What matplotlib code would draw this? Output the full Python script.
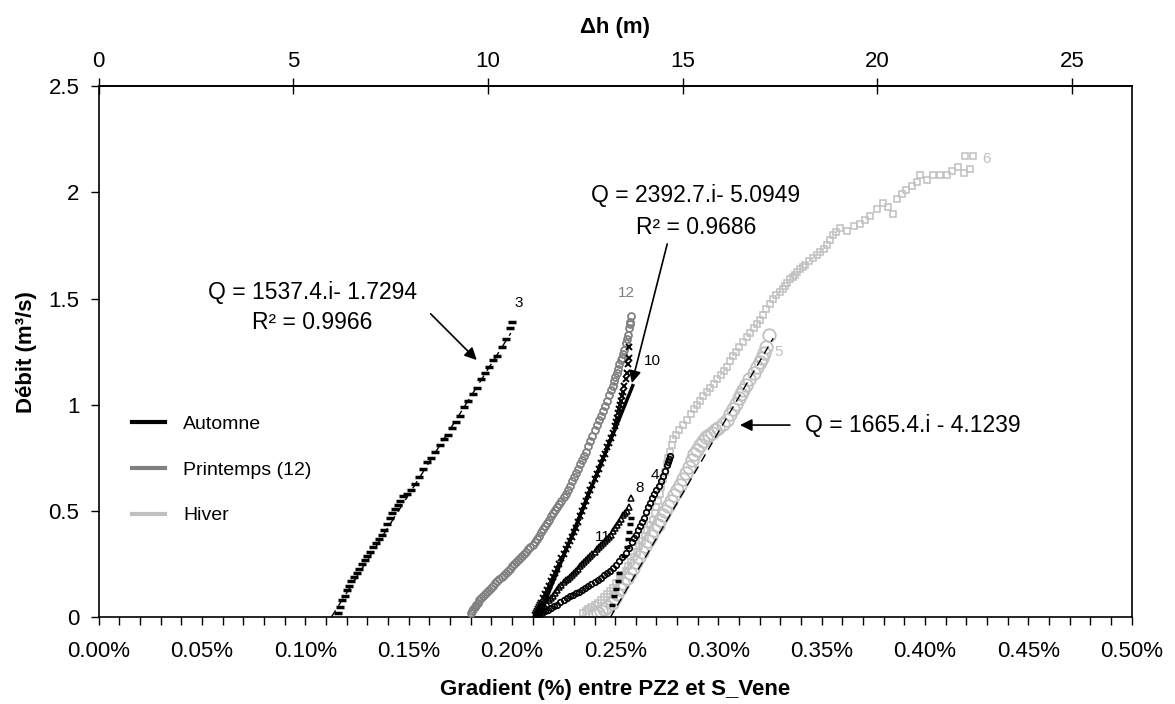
import matplotlib
matplotlib.use('Agg')
import matplotlib.pyplot as plt
from matplotlib.lines import Line2D
from matplotlib.ticker import MultipleLocator, FuncFormatter, FixedLocator
import numpy as np

plt.rcParams['font.family'] = ['Liberation Sans', 'DejaVu Sans']

# ---------------- data : gradient (%) vs discharge (m3/s) ----------------
# event 3 (Automne)
x3 = [0.116, 0.117, 0.118, 0.119, 0.120, 0.121, 0.122, 0.1235, 0.125, 0.126, 0.1275, 0.129,
      0.130, 0.1315, 0.133, 0.134, 0.1355, 0.137, 0.138, 0.1395, 0.141, 0.142, 0.1435, 0.145,
      0.146, 0.1475, 0.149, 0.151, 0.153, 0.155, 0.157, 0.159, 0.161, 0.163, 0.165, 0.167,
      0.169, 0.171, 0.173, 0.175, 0.177, 0.179, 0.181, 0.183, 0.185, 0.187, 0.189, 0.191,
      0.193, 0.195, 0.197, 0.199, 0.200]
y3 = [0.02, 0.05, 0.08, 0.10, 0.13, 0.15, 0.17, 0.19, 0.21, 0.23, 0.25, 0.27,
      0.29, 0.31, 0.33, 0.35, 0.37, 0.39, 0.41, 0.44, 0.47, 0.49, 0.51, 0.53,
      0.55, 0.57, 0.58, 0.60, 0.63, 0.66, 0.70, 0.73, 0.75, 0.78, 0.81, 0.84,
      0.86, 0.89, 0.92, 0.95, 0.99, 1.02, 1.05, 1.08, 1.12, 1.15, 1.18, 1.21,
      1.23, 1.27, 1.31, 1.36, 1.39]
# event 12 (Printemps)
x12 = [0.180, 0.1805, 0.181, 0.182, 0.1825, 0.1835, 0.184, 0.185, 0.186, 0.187, 0.188, 0.189,
       0.190, 0.191, 0.192, 0.193, 0.194, 0.195, 0.196, 0.197, 0.198, 0.199, 0.200, 0.201,
       0.202, 0.203, 0.204, 0.205, 0.206, 0.207, 0.208, 0.209, 0.210, 0.211, 0.212, 0.213,
       0.214, 0.215, 0.216, 0.217, 0.218, 0.219, 0.220, 0.221, 0.222, 0.223, 0.224, 0.225,
       0.226, 0.227, 0.228, 0.229, 0.230, 0.231, 0.232, 0.233, 0.234, 0.235, 0.236, 0.237,
       0.238, 0.239, 0.240, 0.241, 0.242, 0.243, 0.244, 0.245, 0.246, 0.247, 0.248, 0.249,
       0.2495, 0.250, 0.251, 0.2515, 0.252, 0.253, 0.2535, 0.254, 0.2545, 0.255, 0.2555, 0.256,
       0.2565, 0.257, 0.2573, 0.2578]
y12 = [0.02, 0.03, 0.04, 0.05, 0.06, 0.07, 0.08, 0.09, 0.10, 0.11, 0.12, 0.13,
       0.14, 0.15, 0.16, 0.17, 0.18, 0.19, 0.20, 0.21, 0.22, 0.23, 0.24, 0.25,
       0.26, 0.27, 0.28, 0.29, 0.30, 0.31, 0.32, 0.33, 0.34, 0.355, 0.37, 0.385,
       0.40, 0.415, 0.43, 0.445, 0.46, 0.475, 0.49, 0.505, 0.52, 0.535, 0.55, 0.565,
       0.58, 0.60, 0.62, 0.64, 0.66, 0.68, 0.70, 0.72, 0.74, 0.76, 0.78, 0.805,
       0.83, 0.855, 0.88, 0.905, 0.93, 0.95, 0.97, 0.995, 1.02, 1.045, 1.07, 1.09,
       1.11, 1.13, 1.15, 1.17, 1.19, 1.21, 1.22, 1.24, 1.26, 1.29, 1.31, 1.33,
       1.36, 1.38, 1.39, 1.42]
# event 10 (Automne)
x10 = [0.2112, 0.2115, 0.212, 0.2125, 0.213, 0.2135, 0.214, 0.215, 0.216, 0.217, 0.218, 0.219,
       0.220, 0.221, 0.222, 0.223, 0.224, 0.225, 0.226, 0.227, 0.228, 0.229, 0.230, 0.231,
       0.232, 0.233, 0.234, 0.235, 0.236, 0.237, 0.238, 0.239, 0.240, 0.241, 0.242, 0.243,
       0.244, 0.245, 0.246, 0.247, 0.248, 0.249, 0.250, 0.2505, 0.251, 0.2515, 0.252, 0.2525,
       0.253, 0.2535, 0.254, 0.2545, 0.255, 0.2555, 0.256, 0.2565, 0.2565]
y10 = [0.01, 0.02, 0.03, 0.04, 0.05, 0.06, 0.07, 0.09, 0.11, 0.13, 0.15, 0.17,
       0.19, 0.21, 0.23, 0.25, 0.28, 0.30, 0.32, 0.34, 0.36, 0.38, 0.40, 0.42,
       0.45, 0.475, 0.50, 0.525, 0.55, 0.575, 0.60, 0.625, 0.65, 0.675, 0.70, 0.725,
       0.75, 0.77, 0.80, 0.82, 0.845, 0.87, 0.90, 0.92, 0.94, 0.96, 0.98, 1.00,
       1.02, 1.04, 1.06, 1.09, 1.12, 1.15, 1.19, 1.22, 1.27]
# event 4 (Automne)
x4 = [0.212, 0.213, 0.2145, 0.216, 0.2175, 0.219, 0.2205, 0.222, 0.2235, 0.225, 0.2265, 0.228,
      0.2295, 0.231, 0.2325, 0.234, 0.2355, 0.237, 0.2385, 0.240, 0.2415, 0.243, 0.2445, 0.246,
      0.2475, 0.249, 0.2505, 0.252, 0.2535, 0.255, 0.2565, 0.258, 0.259, 0.260, 0.261, 0.262,
      0.263, 0.264, 0.265, 0.266, 0.267, 0.268, 0.269, 0.270, 0.271, 0.272, 0.273, 0.274,
      0.275, 0.2755, 0.276, 0.2765]
y4 = [0.01, 0.015, 0.022, 0.03, 0.037, 0.045, 0.052, 0.06, 0.072, 0.082, 0.092, 0.10,
      0.108, 0.115, 0.122, 0.13, 0.137, 0.148, 0.157, 0.165, 0.175, 0.188, 0.198, 0.21,
      0.22, 0.235, 0.248, 0.265, 0.283, 0.305, 0.328, 0.355, 0.372, 0.39, 0.41, 0.43,
      0.45, 0.47, 0.495, 0.52, 0.54, 0.56, 0.58, 0.60, 0.62, 0.64, 0.665, 0.69,
      0.715, 0.73, 0.745, 0.76]
# event 8 (Automne)
x8 = [0.212, 0.213, 0.214, 0.215, 0.216, 0.217, 0.218, 0.219, 0.220, 0.221, 0.222, 0.223,
      0.224, 0.225, 0.226, 0.227, 0.228, 0.229, 0.230, 0.231, 0.232, 0.233, 0.234, 0.235,
      0.236, 0.237, 0.238, 0.239, 0.240, 0.241, 0.242, 0.243, 0.244, 0.245, 0.246, 0.247,
      0.248, 0.249, 0.250, 0.251, 0.252, 0.253, 0.254, 0.2548, 0.2555, 0.2565, 0.2578]
y8 = [0.01, 0.02, 0.03, 0.04, 0.05, 0.065, 0.08, 0.09, 0.10, 0.115, 0.13, 0.143,
      0.155, 0.165, 0.175, 0.183, 0.19, 0.20, 0.21, 0.22, 0.23, 0.24, 0.25, 0.26,
      0.27, 0.28, 0.29, 0.30, 0.31, 0.32, 0.33, 0.34, 0.35, 0.36, 0.37, 0.38,
      0.39, 0.405, 0.42, 0.435, 0.45, 0.465, 0.48, 0.49, 0.50, 0.52, 0.56]
# event 11 (Automne)
x11 = [0.2485, 0.2495, 0.2505, 0.2515, 0.252, 0.2545, 0.2555, 0.256, 0.2565, 0.257, 0.2575]
y11 = [0.06, 0.10, 0.135, 0.17, 0.21, 0.29, 0.33, 0.37, 0.40, 0.44, 0.47]
# event 5 (Hiver)
x5 = [0.240, 0.2415, 0.243, 0.2445, 0.246, 0.2483, 0.250, 0.251, 0.2525, 0.254, 0.2555, 0.257,
      0.2585, 0.260, 0.2615, 0.263, 0.2645, 0.266, 0.2675, 0.269, 0.2705, 0.2717, 0.273, 0.274,
      0.2755, 0.277, 0.2785, 0.280, 0.2815, 0.283, 0.2845, 0.2855, 0.287, 0.288, 0.2895, 0.291,
      0.2925, 0.294, 0.2955, 0.297, 0.2985, 0.300, 0.302, 0.304, 0.3055, 0.307, 0.3085, 0.310,
      0.311, 0.312, 0.3135, 0.315, 0.317, 0.3185, 0.320, 0.321, 0.322, 0.323, 0.3247]
y5 = [0.01, 0.02, 0.03, 0.04, 0.05, 0.07, 0.09, 0.11, 0.135, 0.16, 0.185, 0.21,
      0.235, 0.26, 0.285, 0.31, 0.335, 0.36, 0.385, 0.41, 0.435, 0.46, 0.48, 0.50,
      0.525, 0.55, 0.575, 0.60, 0.625, 0.65, 0.68, 0.71, 0.74, 0.77, 0.79, 0.81,
      0.83, 0.85, 0.86, 0.87, 0.88, 0.89, 0.91, 0.93, 0.955, 0.98, 1.005, 1.03,
      1.05, 1.07, 1.095, 1.12, 1.15, 1.18, 1.20, 1.22, 1.245, 1.27, 1.33]
# event 6 (Hiver)
x6 = [0.2346, 0.236, 0.237, 0.2385, 0.240, 0.2415, 0.243, 0.2445, 0.246, 0.2475, 0.249, 0.2505,
      0.2523, 0.2535, 0.255, 0.2562, 0.2575, 0.259, 0.2604, 0.2617, 0.263, 0.2643, 0.2655, 0.267,
      0.2685, 0.2692, 0.270, 0.2708, 0.2715, 0.2724, 0.2733, 0.2742, 0.275, 0.2758, 0.2765, 0.2774,
      0.2782, 0.2795, 0.281, 0.283, 0.2847, 0.2865, 0.288, 0.2895, 0.291, 0.2925, 0.2943, 0.296,
      0.298, 0.2995, 0.301, 0.3025, 0.304, 0.3055, 0.307, 0.3085, 0.310, 0.312, 0.3137, 0.3155,
      0.317, 0.3185, 0.3201, 0.3215, 0.323, 0.325, 0.3265, 0.328, 0.3298, 0.331, 0.332, 0.3333,
      0.3346, 0.336, 0.337, 0.338, 0.3395, 0.341, 0.342, 0.344, 0.3459, 0.3475, 0.349, 0.351,
      0.3524, 0.354, 0.3556, 0.357, 0.3588, 0.362, 0.3655, 0.3685, 0.371, 0.3733, 0.3766, 0.3798,
      0.382, 0.3846, 0.3862, 0.389, 0.391, 0.3935, 0.3959, 0.3975, 0.401, 0.404, 0.407, 0.4104,
      0.413, 0.416, 0.419, 0.4217, 0.4193, 0.4233]
y6 = [0.02, 0.03, 0.04, 0.05, 0.06, 0.07, 0.08, 0.095, 0.11, 0.125, 0.14, 0.16,
      0.18, 0.20, 0.22, 0.24, 0.26, 0.285, 0.31, 0.335, 0.36, 0.385, 0.41, 0.435,
      0.46, 0.49, 0.52, 0.55, 0.58, 0.615, 0.65, 0.685, 0.72, 0.75, 0.78, 0.81,
      0.84, 0.86, 0.88, 0.905, 0.93, 0.955, 0.98, 1.00, 1.02, 1.04, 1.06, 1.08,
      1.10, 1.12, 1.14, 1.16, 1.18, 1.205, 1.23, 1.25, 1.27, 1.295, 1.32, 1.34,
      1.36, 1.38, 1.40, 1.425, 1.45, 1.475, 1.50, 1.515, 1.53, 1.545, 1.56, 1.575,
      1.59, 1.60, 1.61, 1.625, 1.64, 1.65, 1.66, 1.675, 1.69, 1.705, 1.72, 1.735,
      1.75, 1.775, 1.80, 1.815, 1.83, 1.82, 1.84, 1.85, 1.87, 1.89, 1.92, 1.95,
      1.93, 1.90, 1.97, 1.99, 2.01, 2.03, 2.05, 2.08, 2.06, 2.08, 2.08, 2.08,
      2.10, 2.12, 2.09, 2.11, 2.17, 2.17]

# linear fits  Q = a * i + b   (i = gradient as a fraction)
fit3 = (1537.4, -1.7294)
fit10 = (2392.7, -5.0949)
fit5 = (1665.4, -4.1239)
fit3_range = (0.1125, 0.1995)
fit10_range = (0.2125, 0.2585)
fit5_range = (0.2476, 0.3265)

L_m = 5306.0  # distance PZ2 - S_Vene (m): dh = i * L

BLACK = '#000000'
GRAY = '#808080'
LIGHT = '#c0c0c0'

# ---------------- figure ----------------
fig = plt.figure(figsize=(11.75, 7.04), dpi=100)
ax = fig.add_axes([0.0840, 0.1229, 0.8791, 0.7550])
ax.set_xlim(0, 0.5)
ax.set_ylim(0, 2.5)

# Hiver
ax.plot(x6, y6, ls='none', marker='s', ms=5, mfc='none', mec=LIGHT, mew=1.1, zorder=2)
ax.plot(x5, y5, ls='none', marker='o', ms=9, mfc='none', mec=LIGHT, mew=1.3, zorder=2)
# Printemps
ax.plot(x12, y12, ls='none', marker='o', ms=5, mfc='none', mec=GRAY, mew=1.3, zorder=3)
# Automne
ax.plot(x3, y3, ls='none', marker='_', ms=6, mec=BLACK, mew=2.5, zorder=4)
ax.plot(x10, y10, ls='none', marker='x', ms=5, mec=BLACK, mew=1.4, zorder=4)
ax.plot(x4, y4, ls='none', marker='o', ms=4, mfc='none', mec=BLACK, mew=1.2, zorder=4)
ax.plot(x8, y8, ls='none', marker='^', ms=4.5, mfc='none', mec=BLACK, mew=1.1, zorder=4)
ax.plot(x11, y11, ls='none', marker='_', ms=5, mec=BLACK, mew=2.5, zorder=4)


def fit_line(fit, rng):
    xs = np.array(rng)
    return xs, fit[0] * xs / 100.0 + fit[1]


fx, fy = fit_line(fit3, fit3_range)
ax.plot(fx, fy, color=BLACK, lw=1.0, dashes=(6, 4), zorder=5)
fx, fy = fit_line(fit10, fit10_range)
ax.plot(fx, fy, color=BLACK, lw=2.5, zorder=5)
fx, fy = fit_line(fit5, fit5_range)
ax.plot(fx, fy, color=BLACK, lw=1.0, dashes=(6, 4), zorder=5)

# series labels
lab_kw = dict(fontsize=11, ha='center', va='center')
ax.text(0.2031, 1.478, '3', color=BLACK, **lab_kw)
ax.text(0.2556, 1.528, '12', color=GRAY, **lab_kw)
ax.text(0.2681, 1.208, '10', color=BLACK, **lab_kw)
ax.text(0.3293, 1.247, '5', color=LIGHT, **lab_kw)
ax.text(0.4299, 2.157, '6', color=LIGHT, **lab_kw)
ax.text(0.2693, 0.670, '4', color=BLACK, **lab_kw)
ax.text(0.2620, 0.609, '8', color=BLACK, **lab_kw)
ax.text(0.2441, 0.379, '11', color=BLACK, **lab_kw)

# equations
eq_kw = dict(fontsize=16.5, ha='center', va='center', color=BLACK)
ax.text(0.1033, 1.527, 'Q = 1537.4.i- 1.7294', **eq_kw)
ax.text(0.1033, 1.386, 'R² = 0.9966', **eq_kw)
ax.text(0.2890, 1.987, 'Q = 2392.7.i- 5.0949', **eq_kw)
ax.text(0.2890, 1.835, 'R² = 0.9686', **eq_kw)
ax.text(0.3419, 0.905, 'Q = 1665.4.i - 4.1239', fontsize=16.5, ha='left', va='center', color=BLACK)

arr = dict(arrowstyle='-|>', color=BLACK, lw=1.2, mutation_scale=18, shrinkA=0, shrinkB=0)
ax.annotate('', xy=(0.1830, 1.211), xytext=(0.1607, 1.428), arrowprops=arr)
ax.annotate('', xy=(0.2581, 1.103), xytext=(0.2752, 1.757), arrowprops=arr)
ax.annotate('', xy=(0.3104, 0.905), xytext=(0.3346, 0.905), arrowprops=arr)

# axes styling
for s in ax.spines.values():
    s.set_linewidth(1.2)
    s.set_color(BLACK)

ax.xaxis.set_major_locator(MultipleLocator(0.05))
ax.xaxis.set_minor_locator(MultipleLocator(0.01))
ax.xaxis.set_major_formatter(FuncFormatter(lambda v, p: f'{v:.2f}%'))
ax.yaxis.set_major_locator(MultipleLocator(0.5))
ax.yaxis.set_major_formatter(FuncFormatter(lambda v, p: f'{v:g}'))
ax.tick_params(axis='x', which='both', direction='out', length=6, width=1, top=False,
               labelsize=16, pad=11)
ax.tick_params(axis='y', which='both', direction='out', length=6, width=1, right=False,
               labelsize=16, pad=8)

ax.set_xlabel('Gradient (%) entre PZ2 et S_Vene', fontsize=16, fontweight='bold', labelpad=12)
ax.set_ylabel('Débit (m³/s)', fontsize=16, fontweight='bold', labelpad=8)

sec = ax.secondary_xaxis('top', functions=(lambda g: g / 100.0 * L_m, lambda d: d * 100.0 / L_m))
sec.xaxis.set_major_locator(FixedLocator([0, 5, 10, 15, 20, 25]))
sec.xaxis.set_major_formatter(FuncFormatter(lambda v, p: f'{v:g}'))
sec.tick_params(axis='x', direction='inout', length=12, width=1, labelsize=16, pad=4)
sec.spines['top'].set_linewidth(1.2)
sec.set_xlabel('Δh (m)', fontsize=16, fontweight='bold', labelpad=13)

# legend
handles = [Line2D([], [], color=BLACK, lw=3),
           Line2D([], [], color=GRAY, lw=3),
           Line2D([], [], color=LIGHT, lw=3)]
ax.legend(handles, ['Automne', 'Printemps (12)', 'Hiver'], loc='center left',
          bbox_to_anchor=(0.0245, 0.278), frameon=False, fontsize=14,
          handlelength=1.7, handletextpad=0.95, labelspacing=1.45, borderaxespad=0)

fig.savefig('out.png', dpi=100)
